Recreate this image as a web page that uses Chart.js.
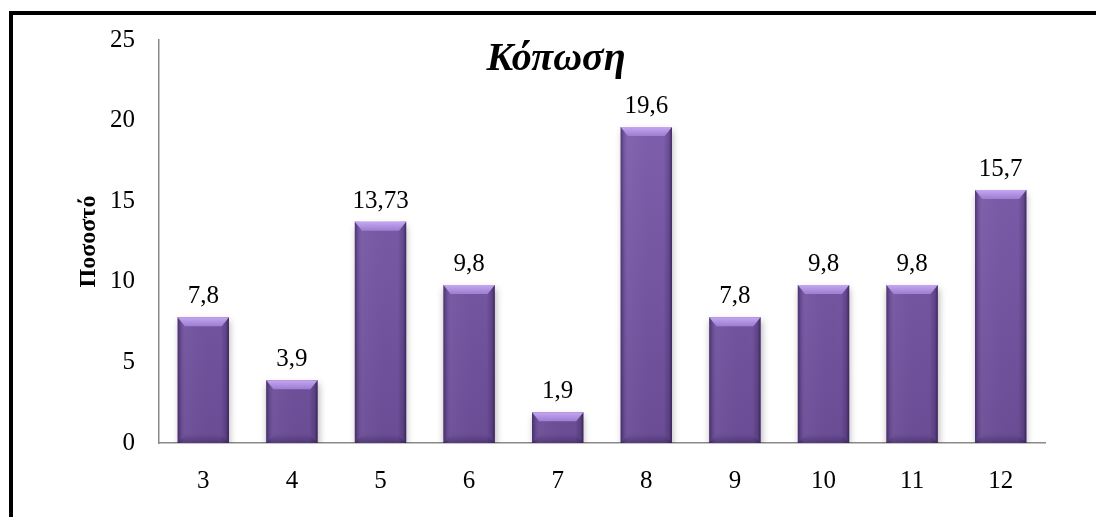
<!DOCTYPE html>
<html>
<head>
<meta charset="utf-8">
<script src="https://cdn.jsdelivr.net/npm/chart.js@4"></script>
<style>
    html, body { margin: 0; padding: 0; background: #fff; overflow: hidden; }
    #frame {
        position: absolute; left: 9px; top: 11px;
        width: 1200px; height: 600px;
        border: 4px solid #000;
    }
    #chartBox { position: absolute; left: 0; top: 0; width: 1096px; height: 517px; }
</style>
</head>
<body>
<div id="frame"></div>
<div id="chartBox"><canvas id="barChart" width="1096" height="517"></canvas></div>
<script>
    // datos del grafico
    var categorias = ['3', '4', '5', '6', '7', '8', '9', '10', '11', '12'];
    var valores = [7.8, 3.9, 13.73, 9.8, 1.9, 19.6, 7.8, 9.8, 9.8, 15.7];
    var etiquetas = ['7,8', '3,9', '13,73', '9,8', '1,9', '19,6', '7,8', '9,8', '9,8', '15,7'];
    var ticksY = [0, 5, 10, 15, 20, 25];
    var titulo = 'Κόπωση';
    var tituloEje = 'Ποσοστό';

    var fuente = '"Liberation Serif", "Times New Roman", serif';

    // relleno de las barras, mas claro arriba
    function rellenoBarra(context) {
        var area = context.chart.chartArea;
        if (!area) return '#7a5aa8';
        var g = context.chart.ctx.createLinearGradient(0, area.top, 0, area.bottom);
        g.addColorStop(0, '#8263b3');
        g.addColorStop(1, '#6a4c95');
        return g;
    }

    // sombra debajo de las barras
    var sombraPlugin = {
        id: 'sombra',
        beforeDatasetDraw: function (chart) {
            var ctx = chart.ctx;
            ctx.save();
            ctx.shadowColor = 'rgba(0,0,0,0.3)';
            ctx.shadowBlur = 7;
            ctx.shadowOffsetX = 1;
            ctx.shadowOffsetY = 4;
        },
        afterDatasetDraw: function (chart) {
            chart.ctx.restore();
        }
    };

    // bisel de cada barra y valor encima
    var biselPlugin = {
        id: 'bisel',
        afterDatasetsDraw: function (chart) {
            var ctx = chart.ctx;
            var meta = chart.getDatasetMeta(0);
            meta.data.forEach(function (bar, i) {
                var p = bar.getProps(['x', 'y', 'width', 'base'], true);
                var l = p.x - p.width / 2, r = p.x + p.width / 2;
                var t = p.y, b = p.base;
                var s = Math.min(9, (b - t) / 2);
                var w = r - l;
                ctx.save();

                // laterales: sombreado suave en los bordes
                var gh = ctx.createLinearGradient(l, 0, r, 0);
                gh.addColorStop(0, 'rgba(25,10,50,0.45)');
                gh.addColorStop(0.06, 'rgba(25,10,50,0.12)');
                gh.addColorStop(0.16, 'rgba(255,255,255,0.04)');
                gh.addColorStop(0.84, 'rgba(0,0,0,0)');
                gh.addColorStop(0.94, 'rgba(25,10,50,0.2)');
                gh.addColorStop(1, 'rgba(25,10,50,0.6)');
                ctx.fillStyle = gh;
                ctx.fillRect(l, t, w, b - t);

                // base mas oscura
                var gb = ctx.createLinearGradient(0, b - s, 0, b);
                gb.addColorStop(0, 'rgba(25,10,50,0)');
                gb.addColorStop(1, 'rgba(25,10,50,0.3)');
                ctx.fillStyle = gb;
                ctx.beginPath();
                ctx.moveTo(l, b); ctx.lineTo(l + s, b - s);
                ctx.lineTo(r - s, b - s); ctx.lineTo(r, b);
                ctx.closePath(); ctx.fill();

                // cara superior
                var g = ctx.createLinearGradient(0, t, 0, t + s);
                g.addColorStop(0, '#c4a6f0');
                g.addColorStop(1, '#9c7ed2');
                ctx.fillStyle = g;
                ctx.beginPath();
                ctx.moveTo(l, t); ctx.lineTo(r, t);
                ctx.lineTo(r - s * 0.8, t + s); ctx.lineTo(l + s * 0.8, t + s);
                ctx.closePath(); ctx.fill();

                // valor
                ctx.fillStyle = '#000';
                ctx.font = '25px ' + fuente;
                ctx.textAlign = 'center';
                ctx.textBaseline = 'alphabetic';
                ctx.fillText(etiquetas[i], p.x, t - 14);
                ctx.restore();
            });
        }
    };

    // titulo dentro del area del grafico
    var tituloPlugin = {
        id: 'tituloInterno',
        afterDraw: function (chart) {
            var ctx = chart.ctx;
            ctx.save();
            ctx.fillStyle = '#000';
            ctx.font = 'italic bold 40px ' + fuente;
            ctx.textAlign = 'center';
            ctx.textBaseline = 'alphabetic';
            ctx.fillText(titulo, 556, 70);
            ctx.restore();
        }
    };

    var ctx = document.getElementById('barChart');
    var grafico = new Chart(ctx, {
        type: 'bar',
        data: {
            labels: categorias,
            datasets: [{
                data: valores,
                backgroundColor: rellenoBarra,
                borderWidth: 0,
                categoryPercentage: 1,
                barPercentage: 0.58
            }]
        },
        options: {
            responsive: false,
            animation: false,
            layout: { padding: { top: 40, right: 51, left: 0, bottom: 0 } },
            plugins: {
                legend: { display: false },
                title: { display: false },
                tooltip: { enabled: false }
            },
            scales: {
                x: {
                    grid: { display: false, drawTicks: false },
                    border: { display: true, color: '#8a8a8a', width: 1.5 },
                    ticks: { color: '#000', font: { family: fuente, size: 25 }, padding: 23 },
                    afterFit: function (s) { s.height = 74; }
                },
                y: {
                    min: 0,
                    max: 25,
                    afterBuildTicks: function (s) {
                        s.ticks = ticksY.map(function (v) { return { value: v }; });
                    },
                    grid: { display: false, drawTicks: false },
                    border: { display: true, color: '#8a8a8a', width: 1.5 },
                    ticks: { color: '#000', font: { family: fuente, size: 25 }, padding: 24 },
                    title: {
                        display: true,
                        text: tituloEje,
                        color: '#000',
                        font: { family: fuente, size: 24, weight: 'bold' },
                        padding: { top: 74, bottom: 0 }
                    },
                    afterFit: function (s) { s.width = 159; }
                }
            }
        },
        plugins: [sombraPlugin, biselPlugin, tituloPlugin]
    });
</script>
</body>
</html>
